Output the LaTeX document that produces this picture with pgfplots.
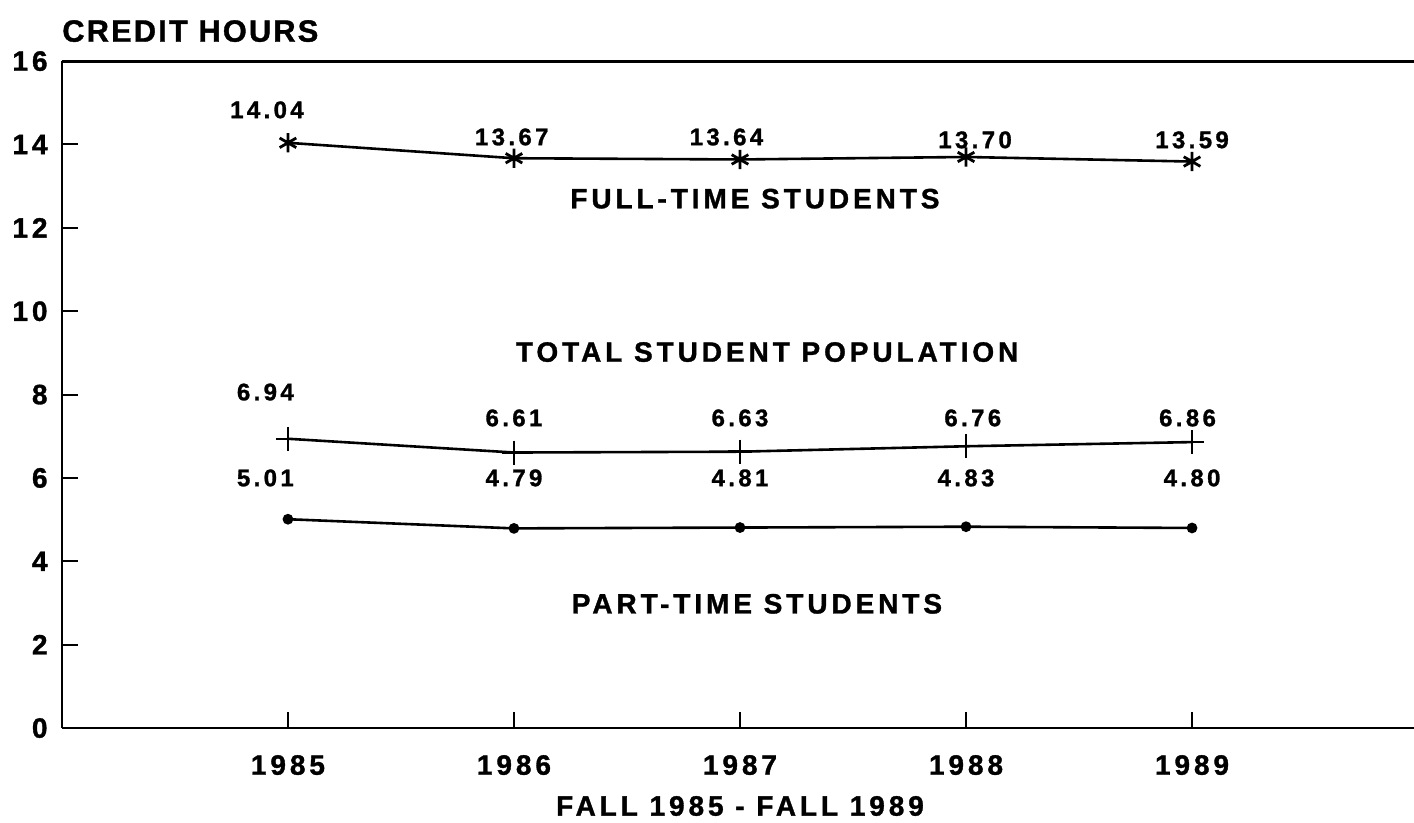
\documentclass[border=0pt]{standalone}
\usepackage{fontspec}
\usepackage{pgfplots}
\pgfplotsset{compat=1.18}
\setmainfont{Liberation Sans}
\newfontfamily\lblfont{Liberation Sans}[LetterSpace=14,FakeBold=1.2]
\newfontfamily\ttlfont{Liberation Sans}[LetterSpace=7,FakeBold=1.2]
\newcommand\bigf{\fontsize{14}{16}\selectfont\lblfont\bfseries}
\newcommand\valf{\fontsize{12}{14}\selectfont\lblfont\bfseries}
\newcommand\ttlf{\fontsize{15.4}{18}\selectfont\ttlfont\bfseries}
\begin{document}
\begin{tikzpicture}
\begin{axis}[
  x=113pt, y=20.84pt,
  xmin=1984, xmax=1989.982, ymin=0, ymax=16,
  axis x line=box, axis y line=left,
  axis line style={-, line width=1.4pt, black},
  xtick={1985,1986,1987,1988,1989},
  xticklabels={1985,1986,1987,1988,1989},
  ytick={0,2,4,6,8,10,12,14,16},
  yticklabels={0,2,4,6,8,10,12,14,16},
  xtick pos=bottom, ytick pos=left,
  tick align=inside,
  major tick length=8pt,
  tick style={line width=1pt, black},
  ticklabel style={font=\bigf},
  xticklabel style={anchor=center, yshift=-18.5pt, inner sep=0pt},
  yticklabel style={anchor=east, inner sep=0pt, xshift=-7pt},
  clip=false,
]
% full-time
\addplot[black, line width=1.3pt, mark=asterisk, mark size=4.8pt, mark options={line width=1.4pt}]
  coordinates {(1985,14.04) (1986,13.67) (1987,13.64) (1988,13.70) (1989,13.59)};
% total
\addplot[black, line width=1.3pt, mark=+, mark size=6pt, mark options={line width=1.2pt}]
  coordinates {(1985,6.94) (1986,6.61) (1987,6.63) (1988,6.76) (1989,6.86)};
% part-time
\addplot[black, line width=1.3pt, mark=*, mark size=2pt]
  coordinates {(1985,5.01) (1986,4.79) (1987,4.81) (1988,4.83) (1989,4.80)};

% value labels
\node[font=\valf] at (axis cs:1984.907,14.83) {14.04};
\node[font=\valf] at (axis cs:1985.99,14.18) {13.67};
\node[font=\valf] at (axis cs:1986.94,14.18) {13.64};
\node[font=\valf] at (axis cs:1988.04,14.11) {13.70};
\node[font=\valf] at (axis cs:1989.0,14.11) {13.59};
\node[font=\valf] at (axis cs:1984.9,8.06) {6.94};
\node[font=\valf] at (axis cs:1986.0,7.44) {6.61};
\node[font=\valf] at (axis cs:1987.0,7.44) {6.63};
\node[font=\valf] at (axis cs:1988.03,7.44) {6.76};
\node[font=\valf] at (axis cs:1988.98,7.44) {6.86};
\node[font=\valf] at (axis cs:1984.9,6.0) {5.01};
\node[font=\valf] at (axis cs:1986.0,6.0) {4.79};
\node[font=\valf] at (axis cs:1987.0,6.0) {4.81};
\node[font=\valf] at (axis cs:1988.0,6.0) {4.83};
\node[font=\valf] at (axis cs:1989.0,6.0) {4.80};

% series labels
\node[font=\bigf] at (axis cs:1987.066,12.70) {FULL-TIME STUDENTS};
\node[font=\bigf] at (axis cs:1987.12,9.02) {TOTAL STUDENT POPULATION};
\node[font=\bigf] at (axis cs:1987.075,2.98) {PART-TIME STUDENTS};

% titles
\node[font=\ttlf, anchor=west, inner sep=0pt] at (axis cs:1984,16.72) {CREDIT HOURS};
\node[font=\bigf] at (axis cs:1987.0,-1.87) {FALL 1985 - FALL 1989};

\coordinate (bbl) at (axis cs:1983.726,-2.255);
\coordinate (btr) at (axis cs:1989.982,17.466);
\end{axis}
\pgfresetboundingbox
\path (bbl) rectangle (btr);
\end{tikzpicture}
\end{document}
